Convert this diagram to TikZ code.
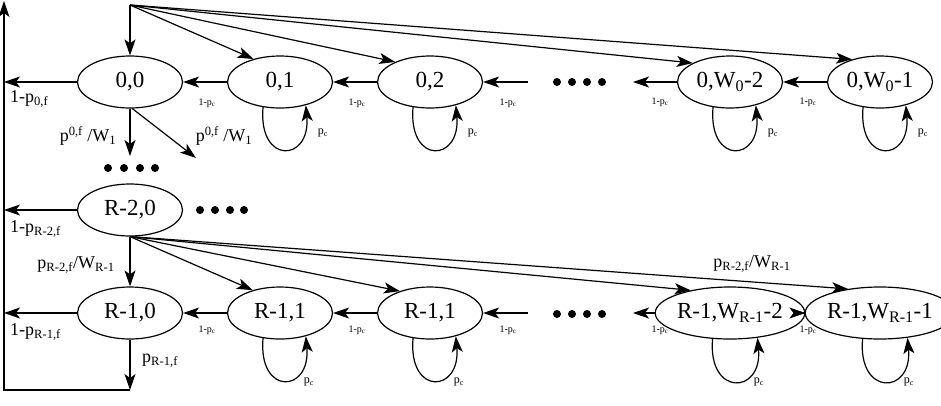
\documentclass[tikz,border=0pt]{standalone}
\usepackage{fontspec}
\setmainfont{Liberation Serif}
\usetikzlibrary{arrows.meta,shapes.geometric}
\begin{document}
\begin{tikzpicture}[x=1pt,y=-1pt,
  st/.style={ellipse,draw,line width=1.2pt,minimum width=105pt,minimum height=52pt,inner sep=0pt,font=\fontsize{23}{24}\selectfont},
  ar/.style={line width=1.2pt,-{Stealth[length=16pt,width=11pt,inset=4pt]}},
  lab/.style={font=\fontsize{18}{19}\selectfont,inner sep=0pt},
  tinyl/.style={font=\fontsize{10}{11}\selectfont,inner sep=0pt},
  pcl/.style={font=\fontsize{12}{13}\selectfont,inner sep=0pt},
  dot/.style={circle,fill,inner sep=0pt,minimum size=8pt},
]
\useasboundingbox (0,0) rectangle (941,405);
% states
\node[st] (n00) at (130,82) {0,0};
\node[st] (n01) at (280,82) {0,1};
\node[st] (n02) at (430,82) {0,2};
\node[st] (n0a) at (730,82) {0,W\textsubscript{0}-2};
\node[st] (n0b) at (880,82) {0,W\textsubscript{0}-1};
\node[st] (r20) at (130,210) {R-2,0};
\node[st] (m0) at (130,313) {R-1,0};
\node[st] (m1) at (280,313) {R-1,1};
\node[st] (m2) at (430,313) {R-1,1};
\node[st] (ma) at (730,313) {R-1,W\textsubscript{R-1}-2};
\node[st] (mb) at (880,313) {R-1,W\textsubscript{R-1}-1};
% dots
\foreach \x in {557,572,587,602} {\node[dot] at (\x,82) {}; \node[dot] at (\x,314) {};}
\foreach \x in {108,124,140,155} {\node[dot] at (\x,168) {};}
\foreach \x in {200,215,230,244} {\node[dot] at (\x,210) {};}
% coordinates
\coordinate (top) at (130,5);
\coordinate (e1) at (4,82);
\coordinate (e2) at (4,210);
\coordinate (e3) at (4,313);
\coordinate (botc) at (130,390);
\coordinate (botl) at (4,390);
\coordinate (topl) at (4,1);
\coordinate (d1) at (130,156);
\coordinate (d2) at (196,158);
\coordinate (dotsA) at (528,82);
\coordinate (dotsB) at (528,313);
\coordinate (outA) at (633,82);
\coordinate (outB) at (633,313);
% fan from top
\draw[ar] (top) -- (n00);
\draw[ar] (top) -- (n01.139);
\draw[ar] (top) -- (n02.150);
\draw[ar] (top) -- (n0a.153);
\draw[ar] (top) -- (n0b.141);
% row 1 chain
\draw[ar] (n01) -- (n00);
\draw[ar] (n02) -- (n01);
\draw[ar] (dotsA) -- (n02);
\draw[ar] (n0a) -- (outA);
\draw[ar] (n0b) -- (n0a);
\node[tinyl] at (207,103) {1-p\textsubscript{c}};
\node[tinyl] at (357,103) {1-p\textsubscript{c}};
\node[tinyl] at (508,103) {1-p\textsubscript{c}};
\node[tinyl] at (660,102) {1-p\textsubscript{c}};
\node[tinyl] at (808,102) {1-p\textsubscript{c}};
% loops row 1
\foreach \n in {n01,n02,n0a,n0b} {
  \draw[ar] (\n.-124) .. controls +(-5,58) and +(5,57) .. (\n.-42);
  \node[pcl] at ([xshift=43pt,yshift=-51pt]\n.center) {p\textsubscript{c}};
}
% row 1 exits
\draw[ar] (n00) -- (e1);
\node[lab,anchor=west] at (10,99) {1-p\textsubscript{0,f}};
\draw[ar] (n00) -- (d1);
\draw[ar] (n00.-85) -- (d2);
\node[lab] at (88,136) {p\textsuperscript{0,f} /W\textsubscript{1}};
\node[lab] at (224,136) {p\textsuperscript{0,f} /W\textsubscript{1}};
% row 2
\draw[ar] (r20) -- (e2);
\node[lab,anchor=west] at (10,229) {1-p\textsubscript{R-2,f}};
\draw[ar] (r20) -- (m0);
\node[lab] at (76,265) {p\textsubscript{R-2,f}/W\textsubscript{R-1}};
\draw[ar] (r20.south) -- (m1.140);
\draw[ar] (r20.south) -- (m2.144);
\draw[ar] (r20.south) -- (ma.150);
\draw[ar] (r20.south) -- (mb.143);
\node[lab] at (752,264) {p\textsubscript{R-2,f}/W\textsubscript{R-1}};
% row 3 chain
\draw[ar] (m1) -- (m0);
\draw[ar] (m2) -- (m1);
\draw[ar] (dotsB) -- (m2);
\draw[ar] (ma) -- (outB);
\draw[ar] (mb) -- (ma);
\node[tinyl] at (207,330) {1-p\textsubscript{c}};
\node[tinyl] at (357,330) {1-p\textsubscript{c}};
\node[tinyl] at (508,330) {1-p\textsubscript{c}};
\node[tinyl] at (660,330) {1-p\textsubscript{c}};
\node[tinyl] at (808,330) {1-p\textsubscript{c}};
\foreach \n in {m1,m2,ma,mb} {
  \draw[ar] (\n.-124) .. controls +(-5,58) and +(5,57) .. (\n.-42);
  \node[pcl] at ([xshift=29pt,yshift=-69pt]\n.center) {p\textsubscript{c}};
}
% row 3 exits
\draw[ar] (m0) -- (e3);
\node[lab,anchor=west] at (10,332) {1-p\textsubscript{R-1,f}};
\draw[ar] (m0) -- (botc);
\node[lab,anchor=west] at (142,361) {p\textsubscript{R-1,f}};
\draw[ar] (botc) -- (botl) -- (topl);
\end{tikzpicture}
\end{document}
